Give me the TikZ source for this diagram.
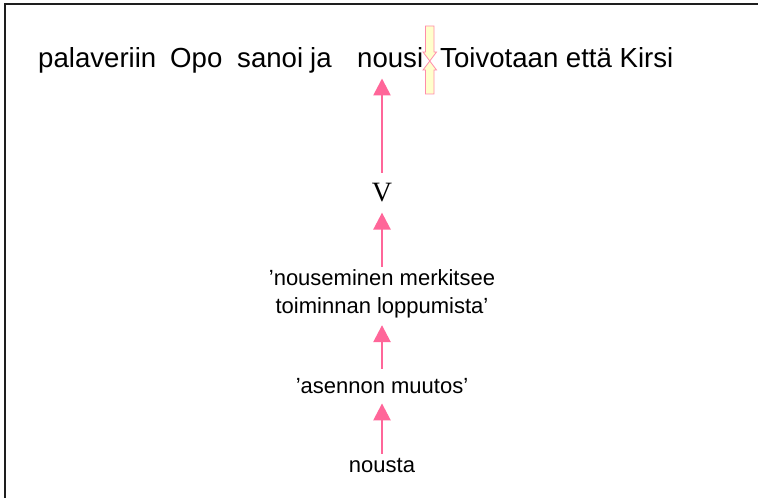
\documentclass[tikz,border=0pt]{standalone}
\usepackage{fontspec}
\setmainfont{Liberation Sans}
\newfontfamily\vfont{Liberation Serif}
\usetikzlibrary{arrows.meta}
\definecolor{pinkarrow}{RGB}{255,102,153}
\definecolor{yfill}{RGB}{255,255,204}
\definecolor{yline}{RGB}{255,140,170}
\definecolor{framec}{RGB}{30,30,30}
\tikzset{
  topword/.style={font=\fontsize{27.6bp}{32bp}\selectfont, inner sep=0pt, anchor=base west},
  lbl/.style={font=\fontsize{22bp}{27bp}\selectfont, inner sep=0pt, anchor=base, align=center},
  conn/.style={draw=pinkarrow, line width=2.5bp, -{Triangle[width=17bp,length=17bp]}, shorten >=10bp},
  yarrow/.style={fill=yfill, draw=yline, line width=0.8bp, line join=miter},
  frameline/.style={draw=framec, line width=2bp}
}
\begin{document}
\begin{tikzpicture}[x=1bp,y=-1bp]
\clip (0,0) rectangle (758,498);
\fill[white] (0,0) rectangle (758,498);
\draw[frameline] (5,4) rectangle (780,520);
% top sentence
\node[topword] (w1) at (38,68) {palaveriin};
\node[topword] (w2) at (170,68) {Opo};
\node[topword] (w3) at (237,68) {sanoi};
\node[topword] (w4) at (310,68) {ja};
\node[topword] (nousi) at (357,68) {nousi};
\node[topword] (w6) at (440,68) {Toivotaan että Kirsi};
% yellow block arrows
\draw[yarrow] (425.5,26) -- (434,26) -- (434,52) -- (436.5,52) -- (429.75,61) -- (423,52) -- (425.5,52) -- cycle;
\draw[yarrow] (425.5,94) -- (434,94) -- (434,70) -- (436.5,70) -- (429.75,61) -- (423,70) -- (425.5,70) -- cycle;
% lower labels
\node[lbl, font=\fontsize{28bp}{32bp}\selectfont\vfont] (V) at (382,202) {V};
\node[lbl] (mid) at (382,313) {’nouseminen merkitsee\\toiminnan loppumista’};
\node[lbl] (asennon) at (382,393) {’asennon muutos’};
\node[lbl] (nousta) at (382,472) {nousta};
% connectors
\draw[conn, shorten <=10.5bp] (V.north) -- (V.north |- nousi.south);
\draw[conn, shorten <=3bp] (mid.north) -- (V.south);
\draw[conn, shorten <=9bp, shorten >=7.4bp] (asennon.north) -- (mid.south);
\draw[conn, shorten <=3.6bp] (nousta.north) -- (asennon.south);
\end{tikzpicture}
\end{document}
